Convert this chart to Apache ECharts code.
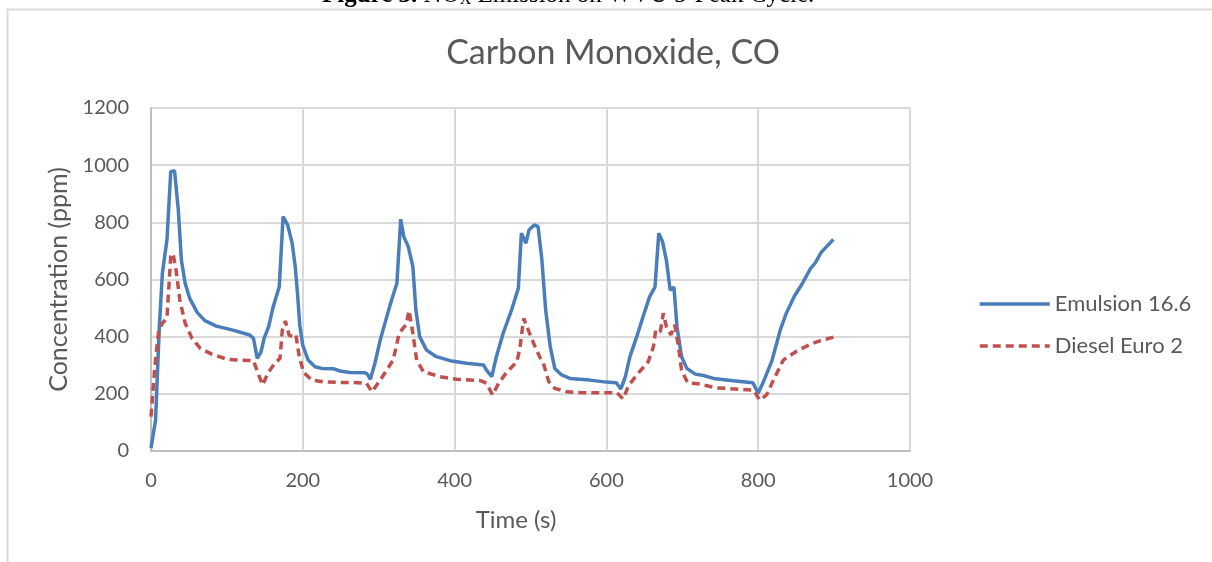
<!DOCTYPE html>
<html>
<head>
<meta charset="utf-8">
<script src="https://cdn.jsdelivr.net/npm/echarts@6/dist/echarts.min.js"></script>
<style>
html,body{margin:0;padding:0;background:#fff;}
#chart{width:1212px;height:562px;}
</style>
</head>
<body>
<div id="chart"></div>
<script>
var xTicks = [0, 200, 400, 600, 800, 1000];
var yTicks = [0, 200, 400, 600, 800, 1000, 1200];
var seriesNames = ['Emulsion 16.6', 'Diesel Euro 2'];

var emulsionTime = [0,6,11,15,21,26,31,36,40,45,51,61,71,86,108,130,135,140,145,149,155,161,169,174,180,186,190,193,196,200,207,216,225,240,249,262,282,285,289,295,302,310,317,324,329,333,339,345,349,354,363,376,394,416,438,442,449,455,464,475,484,488,494,498,505,510,515,520,526,532,541,552,578,600,613,619,625,631,640,649,657,664,669,674,679,684,689,693,699,706,717,728,741,767,793,800,807,818,829,837,848,858,869,875,883,899];
var emulsionCO = [10,108,435,622,738,977,981,843,668,587,534,484,456,437,423,406,394,324,347,394,435,505,575,820,791,727,645,552,440,370,318,295,289,288,280,275,274,269,251,307,388,464,528,587,811,750,715,645,493,400,353,330,316,307,301,283,260,330,412,493,569,762,727,773,791,785,668,493,365,289,266,254,248,241,239,217,260,330,400,476,540,573,762,732,668,563,573,435,330,289,269,264,254,246,239,202,243,315,423,482,543,585,639,657,695,740];

var dieselTime = [0,5,10,15,21,26,29,33,38,45,54,65,80,100,117,135,141,147,154,163,170,173,177,182,187,191,195,201,212,227,249,266,284,291,302,319,327,332,336,340,345,350,359,381,403,434,442,450,458,469,482,486,491,498,506,513,517,524,532,548,570,596,614,622,629,640,655,662,665,671,675,679,685,690,695,699,707,723,745,776,794,802,811,820,833,851,864,868,881,901];
var dieselCO = [120,295,417,447,464,680,691,633,528,447,394,359,339,321,318,316,272,231,272,307,324,423,455,405,400,406,335,275,248,242,240,240,237,207,248,318,412,429,441,491,412,318,277,260,251,246,237,196,237,277,312,359,464,417,365,324,307,243,219,207,204,204,204,182,228,266,312,365,423,417,482,435,406,441,365,283,239,234,221,216,213,178,196,248,318,350,367,373,385,400];

function zip(a, b) { return a.map(function (v, i) { return [v, b[i]]; }); }

var FONT = 'Lato';
var TXT = '#595959';
var chart = echarts.init(document.getElementById('chart'), null, {renderer: 'canvas'});
chart.setOption({
  animation: false,
  backgroundColor: '#fff',
  textStyle: {fontFamily: FONT},
  title: {
    text: 'Carbon Monoxide, CO',
    left: 608, top: 31, textAlign: 'center',
    textStyle: {fontFamily: FONT, fontSize: 34, fontWeight: 'normal', color: TXT}
  },
  graphic: [
    {type: 'rect', z: -10, shape: {x: 7.5, y: 9.5, width: 1300, height: 700},
     style: {fill: null, stroke: '#d9d9d9', lineWidth: 2}},
    {type: 'text', left: 322, top: -17,
     style: {text: '{b|Figure 3.} NO{s|X} Emission on WVU 5-Peak Cycle.', fontFamily: 'Liberation Serif', fontSize: 25, fill: '#000',
       rich: {b: {fontWeight: 'bold', fontFamily: 'Liberation Serif', fontSize: 25, fill: '#000'},
              s: {fontFamily: 'Liberation Serif', fontSize: 16, verticalAlign: 'bottom', padding: [8, 0, 0, 0], fill: '#000'}}}},
    {type: 'text', x: 516, y: 508,
     style: {text: 'Time (s)', fontFamily: FONT, fontSize: 24, fill: TXT, align: 'center', verticalAlign: 'top'}}
  ],
  legend: {
    orient: 'vertical', left: 973, top: 288, itemWidth: 70, itemHeight: 14, itemGap: 20,
    itemStyle: {opacity: 0},
    lineStyle: {width: 3.5},
    textStyle: {fontFamily: FONT, fontSize: 22, color: TXT},
    data: seriesNames
  },
  grid: {left: 151, right: 302, top: 108, bottom: 111, containLabel: false},
  xAxis: {
    type: 'value', min: 0, max: 1000, interval: 200,
    axisLine: {show: true, lineStyle: {color: '#bfbfbf', width: 2}},
    axisTick: {show: false},
    axisLabel: {fontFamily: FONT, fontSize: 20, color: TXT, margin: 20,
      formatter: function (v) { return xTicks.indexOf(v) >= 0 ? String(v) : ''; }},
    splitLine: {show: true, lineStyle: {color: '#d9d9d9', width: 2}}
  },
  yAxis: {
    type: 'value', min: 0, max: 1200, interval: 200,
    name: 'Concentration (ppm)', nameLocation: 'middle', nameGap: 80,
    nameTextStyle: {fontFamily: FONT, fontSize: 25, color: TXT},
    axisLine: {show: true, lineStyle: {color: '#bfbfbf', width: 2}},
    axisTick: {show: false},
    axisLabel: {fontFamily: FONT, fontSize: 20, color: TXT, margin: 22,
      formatter: function (v) { return yTicks.indexOf(v) >= 0 ? String(v) : ''; }},
    splitLine: {show: true, lineStyle: {color: '#d9d9d9', width: 2}}
  },
  series: [
    {name: seriesNames[0], type: 'line', symbol: 'none', data: zip(emulsionTime, emulsionCO),
     itemStyle: {color: '#4a7ebb'}, lineStyle: {color: '#4a7ebb', width: 3.5}},
    {name: seriesNames[1], type: 'line', symbol: 'none', data: zip(dieselTime, dieselCO),
     itemStyle: {color: '#c0504d'}, lineStyle: {color: '#c0504d', width: 3.5, type: [8, 5]}}
  ]
});
</script>
</body>
</html>
